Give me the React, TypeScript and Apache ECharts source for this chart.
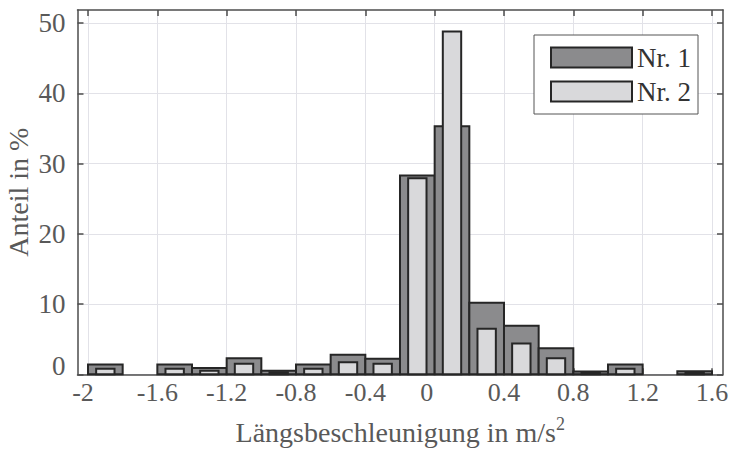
import React, { useEffect, useRef } from "react";
import * as echarts from "echarts";

// Histogram bin edges (m/s²) and the share per bin (%) for both runs
const binEdges = [-2, -1.8, -1.6, -1.4, -1.2, -1.0, -0.8, -0.6, -0.4, -0.2, 0, 0.2, 0.4, 0.6, 0.8, 1.0, 1.2, 1.4, 1.6];
const nr1 = [1.4, 0, 1.4, 0.9, 2.3, 0.5, 1.4, 2.8, 2.2, 28.3, 35.3, 10.2, 6.9, 3.7, 0.4, 1.4, 0, 0.45];
const nr2 = [0.8, 0, 0.8, 0.5, 1.5, 0.3, 0.8, 1.7, 1.5, 27.9, 48.8, 6.5, 4.4, 2.3, 0.3, 0.8, 0, 0.3];

const xTicks = [-2, -1.6, -1.2, -0.8, -0.4, 0, 0.4, 0.8, 1.2, 1.6];
const yTicks = [0, 10, 20, 30, 40, 50];

const seriesNames = ["Nr. 1", "Nr. 2"];
const FONT = "Liberation Serif";
const TEXT = "#595959";
const AXIS = "#4d4d4d";
const EDGE = "#262626";
const DARK = "#8b8b8d";
const LIGHT = "#d9d9db";

function toBins(values: number[]) {
  return values.map((v, i) => [binEdges[i], binEdges[i + 1], v]);
}

function makeRender(fill: string, widthRatio: number) {
  return (_params: any, api: any) => {
    const x0 = api.value(0);
    const x1 = api.value(1);
    const v = api.value(2);
    if (!v) return { type: "group", children: [] };
    const pTop = api.coord([x0, v]);
    const pBase = api.coord([x1, 0]);
    const full = pBase[0] - pTop[0];
    const w = full * widthRatio;
    const left = pTop[0] + (full - w) / 2;
    return {
      type: "rect",
      shape: { x: left, y: pTop[1], width: w, height: pBase[1] - pTop[1] },
      style: { fill, stroke: EDGE, lineWidth: 2 },
    };
  };
}

const fmt = (v: number) => String(Number(v.toFixed(1)));

export default function App() {
  const ref = useRef<HTMLDivElement>(null);

  useEffect(() => {
    if (!ref.current) return;
    const chart = echarts.init(ref.current, null, { renderer: "svg" });
    const tickStyle = { show: true, inside: true, length: 6, lineStyle: { color: AXIS, width: 1.5 } };
    chart.setOption({
      animation: false,
      backgroundColor: "#fff",
      textStyle: { fontFamily: FONT },
      grid: { left: 77.5, right: 6, top: 10, bottom: 78.7, containLabel: false, outerBoundsMode: "none" },
      legend: {
        orient: "vertical",
        left: 534,
        top: 35,
        padding: [9, 7, 9, 16],
        itemWidth: 81,
        itemHeight: 20,
        itemGap: 7,
        icon: "rect",
        backgroundColor: "#fff",
        borderColor: "#555",
        borderWidth: 1,
        borderRadius: 0,
        textStyle: { fontFamily: FONT, fontSize: 27, color: "#333", lineHeight: 20 },
        data: [
          { name: seriesNames[0], itemStyle: { color: DARK, borderColor: EDGE, borderWidth: 2 } },
          { name: seriesNames[1], itemStyle: { color: LIGHT, borderColor: EDGE, borderWidth: 2 } },
        ],
      },
      xAxis: [
        {
          type: "value",
          position: "bottom",
          min: -2.0606,
          max: 1.6635,
          axisLine: { show: true, onZero: false, lineStyle: { color: AXIS, width: 1.5 } },
          axisTick: { ...tickStyle, customValues: xTicks },
          axisLabel: {
            customValues: xTicks,
            margin: 5,
            fontFamily: FONT,
            fontSize: 26,
            color: TEXT,
            formatter: (v: number) => (v === 0 ? "{z|0}" : v === -2 ? "{m|-2}" : fmt(v)),
            rich: {
              z: { fontFamily: FONT, fontSize: 26, color: TEXT, padding: [0, 16, 0, 0] },
              m: { fontFamily: FONT, fontSize: 26, color: TEXT, padding: [0, 10, 0, 0] },
            },
          },
          splitLine: { show: true, lineStyle: { color: "#e2e2e8", width: 1 } },
          name: "{a|Längsbeschleunigung in m/s}{s|2}",
          nameLocation: "middle",
          nameGap: 41,
          nameMoveOverlap: false,
          nameTextStyle: {
            rich: {
              a: { fontFamily: FONT, fontSize: 28, color: TEXT, lineHeight: 34 },
              s: { fontFamily: FONT, fontSize: 18, color: TEXT, verticalAlign: "top", lineHeight: 34 },
            },
          },
        },
        {
          type: "value",
          position: "top",
          min: -2.0606,
          max: 1.6635,
          axisLine: { show: true, onZero: false, lineStyle: { color: AXIS, width: 1.5 } },
          axisTick: { ...tickStyle, customValues: xTicks },
          axisLabel: { show: false },
          splitLine: { show: false },
        },
      ],
      yAxis: [
        {
          type: "value",
          position: "left",
          min: 0,
          max: 51.85,
          axisLine: { show: true, onZero: false, lineStyle: { color: AXIS, width: 1.5 } },
          axisTick: { ...tickStyle, customValues: yTicks },
          axisLabel: {
            customValues: yTicks,
            margin: 12,
            fontFamily: FONT,
            fontSize: 27,
            color: TEXT,
            formatter: (v: number) => (v === 0 ? "{z|0}" : String(v)),
            rich: {
              z: { fontFamily: FONT, fontSize: 27, color: TEXT, padding: [0, 0, 16, 0] },
            },
          },
          splitLine: { show: true, lineStyle: { color: "#e2e2e8", width: 1 } },
          name: "Anteil in %",
          nameLocation: "middle",
          nameGap: 45,
          nameMoveOverlap: false,
          nameTextStyle: { fontFamily: FONT, fontSize: 28, color: TEXT },
        },
        {
          type: "value",
          position: "right",
          min: 0,
          max: 51.85,
          axisLine: { show: true, onZero: false, lineStyle: { color: AXIS, width: 1.5 } },
          axisTick: { ...tickStyle, customValues: yTicks },
          axisLabel: { show: false },
          splitLine: { show: false },
        },
      ],
      series: [
        {
          name: seriesNames[0],
          type: "custom",
          xAxisIndex: 0,
          yAxisIndex: 0,
          itemStyle: { color: DARK, borderColor: EDGE, borderWidth: 2 },
          encode: { x: [0, 1], y: 2 },
          renderItem: makeRender(DARK, 1),
          data: toBins(nr1),
        },
        {
          name: seriesNames[1],
          type: "custom",
          xAxisIndex: 0,
          yAxisIndex: 0,
          itemStyle: { color: LIGHT, borderColor: EDGE, borderWidth: 2 },
          encode: { x: [0, 1], y: 2 },
          renderItem: makeRender(LIGHT, 0.53),
          data: toBins(nr2),
        },
      ],
    });
    return () => chart.dispose();
  }, []);

  return (
    <div
      ref={ref}
      style={{ position: "fixed", left: 0, top: 0, width: 729, height: 453, background: "#fff" }}
    />
  );
}
